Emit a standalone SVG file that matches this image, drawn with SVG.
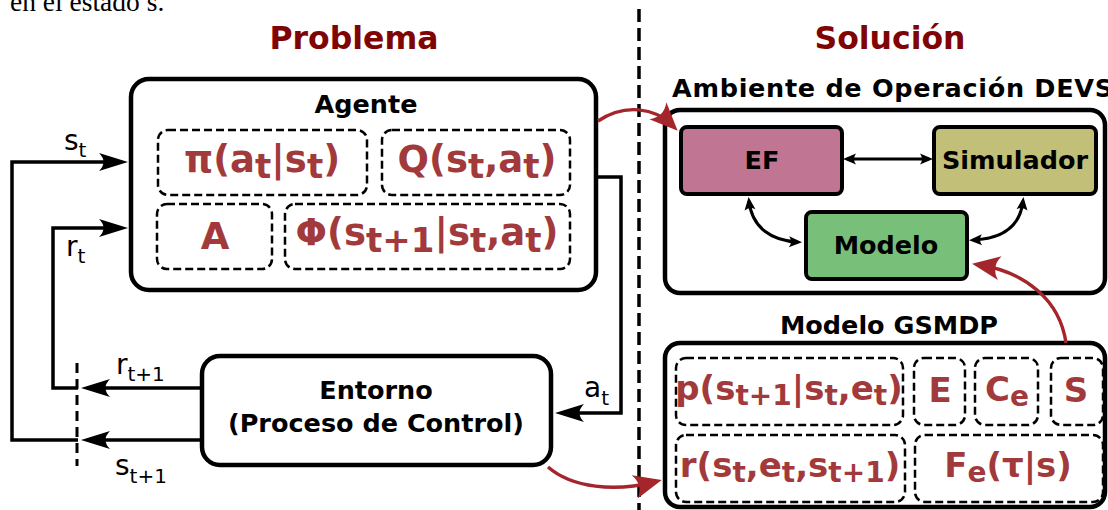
<svg xmlns="http://www.w3.org/2000/svg" width="1108" height="510" viewBox="0 0 1108 510">
<style>
.box{fill:#fff;stroke:#000;stroke-width:4.5}
.dbox{fill:none;stroke:#000;stroke-width:2.5;stroke-dasharray:8 4}
.title{font-family:"DejaVu Sans",sans-serif;font-weight:bold;font-size:31.5px;fill:#7f0505;text-anchor:middle}
.lbl{font-family:"DejaVu Sans",sans-serif;font-weight:bold;font-size:25.5px;fill:#000;text-anchor:middle}
.f{font-family:"DejaVu Sans",sans-serif;font-weight:bold;font-size:34px;fill:#a23a3c;text-anchor:middle}
.sub{font-size:28px}
.fa{font-size:37px}
.fa .sub{font-size:34px}
.v{font-family:"DejaVu Sans",sans-serif;font-size:28px;fill:#000}
.vs{font-size:20px}
.ln{fill:none;stroke:#000;stroke-width:3.5}
.thin{fill:none;stroke:#000;stroke-width:3}
.red{fill:none;stroke:#a4262c;stroke-width:3.4}
.node{stroke:#000;stroke-width:4}
</style>
<defs>
<marker id="ab" markerUnits="userSpaceOnUse" viewBox="-31 -11 33 22" markerWidth="33" markerHeight="22" refX="-10" refY="0" orient="auto" overflow="visible">
<path d="M0,0 L-29,-9 Q-20,0 -29,9 Z" fill="#000"/>
</marker>
<marker id="as" markerUnits="userSpaceOnUse" viewBox="-14 -7 16 14" markerWidth="16" markerHeight="14" refX="-4" refY="0" orient="auto-start-reverse" overflow="visible">
<path d="M0,0 L-13,-5.5 Q-9,0 -13,5.5 Z" fill="#000"/>
</marker>
<marker id="ar" markerUnits="userSpaceOnUse" viewBox="-30 -14 32 28" markerWidth="32" markerHeight="28" refX="-8" refY="0" orient="auto" overflow="visible">
<path d="M0,0 L-28,-12 Q-19,0 -28,12 Z" fill="#a4262c"/>
</marker>
</defs>
<rect width="1108" height="510" fill="#fff"/>
<text x="10" y="11" font-family="Liberation Serif,serif" font-size="27.5" fill="#000">en el estado s.</text>
<text class="title" x="354" y="49">Problema</text>
<text class="title" x="890" y="49">Solución</text>
<g id="agente">
<rect class="box" x="131" y="79" width="465" height="211" rx="18"/>
<text class="lbl" x="366" y="113">Agente</text>
<rect class="dbox" x="158" y="130" width="209" height="65" rx="10"/>
<rect class="dbox" x="382" y="130" width="188" height="65" rx="10"/>
<rect class="dbox" x="157" y="204" width="115" height="65" rx="10"/>
<rect class="dbox" x="285" y="204" width="285" height="65" rx="10"/>
<text class="f fa" x="262" y="172">π(a<tspan class="sub" dy="6">t</tspan><tspan dy="-6">|s</tspan><tspan class="sub" dy="6">t</tspan><tspan dy="-6">)</tspan></text>
<text class="f fa" x="477" y="172">Q(s<tspan class="sub" dy="6">t</tspan><tspan dy="-6">,a</tspan><tspan class="sub" dy="6">t</tspan><tspan dy="-6">)</tspan></text>
<text class="f fa" x="215" y="249">A</text>
<text class="f fa" x="427" y="245">Φ(s<tspan class="sub" dy="7">t+1</tspan><tspan dy="-7">|s</tspan><tspan class="sub" dy="7">t</tspan><tspan dy="-7">,a</tspan><tspan class="sub" dy="7">t</tspan><tspan dy="-7">)</tspan></text>
</g>
<g id="entorno">
<rect class="box" x="202" y="356" width="349" height="109" rx="18"/>
<text class="lbl" x="376" y="399">Entorno</text>
<text class="lbl" x="376" y="432" font-size="26">(Proceso de Control)</text>
</g>
<g id="labels">
<text class="v" x="64" y="150">s<tspan class="vs" dy="7">t</tspan></text>
<text class="v" x="66" y="256">r<tspan class="vs" dy="7">t</tspan></text>
<text class="v" x="116" y="374">r<tspan class="vs" dy="7">t+1</tspan></text>
<text class="v" x="115" y="475">s<tspan class="vs" dy="8">t+1</tspan></text>
<text class="v" x="584" y="397">a<tspan class="vs" dy="8">t</tspan></text>
</g>
<g id="ambiente">
<rect class="box" x="665" y="110" width="440" height="183" rx="15"/>
<text class="lbl" x="672" y="97" font-size="27" letter-spacing="0.7" style="text-anchor:start">Ambiente de Operación DEVS</text>
</g>
<g id="ef">
<rect class="node" x="681" y="127" width="161" height="67" rx="6" fill="#c07592"/>
<text class="lbl" x="762" y="169" font-size="23.5">EF</text>
</g>
<g id="simulador">
<rect class="node" x="934" y="127" width="162" height="67" rx="6" fill="#c2bf78"/>
<text class="lbl" x="1015" y="169" font-size="23.5">Simulador</text>
</g>
<g id="modelo">
<rect class="node" x="806" y="212" width="161" height="67" rx="6" fill="#78c07a"/>
<text class="lbl" x="886" y="254" font-size="23.5">Modelo</text>
</g>
<g id="gsmdp">
<rect class="box" x="665" y="343" width="440" height="164" rx="15"/>
<text class="lbl" x="889" y="334" font-size="26.4">Modelo GSMDP</text>
<rect class="dbox" x="676" y="358" width="227" height="67" rx="10"/>
<rect class="dbox" x="914" y="358" width="51" height="67" rx="10"/>
<rect class="dbox" x="975" y="358" width="63" height="67" rx="10"/>
<rect class="dbox" x="1051" y="358" width="52" height="67" rx="10"/>
<rect class="dbox" x="676" y="435" width="229" height="67" rx="10"/>
<rect class="dbox" x="915" y="435" width="188" height="67" rx="10"/>
<text class="f" x="789" y="400">p(s<tspan class="sub" dy="5">t+1</tspan><tspan dy="-5">|s</tspan><tspan class="sub" dy="5">t</tspan><tspan dy="-5">,e</tspan><tspan class="sub" dy="5">t</tspan><tspan dy="-5">)</tspan></text>
<text class="f" x="940" y="402">E</text>
<text class="f" x="1007" y="401">C<tspan class="sub" dy="5">e</tspan></text>
<text class="f" x="1076" y="402">S</text>
<text class="f" x="790" y="477">r(s<tspan class="sub" dy="5">t</tspan><tspan dy="-5">,e</tspan><tspan class="sub" dy="5">t</tspan><tspan dy="-5">,s</tspan><tspan class="sub" dy="5">t+1</tspan><tspan dy="-5">)</tspan></text>
<text class="f" x="1008" y="477">F<tspan class="sub" dy="5">e</tspan><tspan dy="-5">(τ|s)</tspan></text>
</g>
<g id="connectors">
<path d="M639,9 V510" fill="none" stroke="#000" stroke-width="3.5" stroke-dasharray="13 6"/>
<path d="M77,363 V466" fill="none" stroke="#000" stroke-width="3" stroke-dasharray="10 6"/>
<path class="ln" d="M78,440 H12 V162 H118" marker-end="url(#ab)"/>
<path class="ln" d="M78,388 H53 V228 H118" marker-end="url(#ab)"/>
<path class="ln" d="M201,388 H91" marker-end="url(#ab)"/>
<path class="ln" d="M201,440 H91" marker-end="url(#ab)"/>
<path class="ln" d="M597,177 H621 V413 H565" marker-end="url(#ab)"/>
<path class="thin" d="M847,159 H929" stroke-width="2.2" marker-start="url(#as)" marker-end="url(#as)"/>
<path class="thin" d="M749,201 C752,228 772,241 798,242" marker-start="url(#as)" marker-end="url(#as)"/>
<path class="thin" d="M1023,201 C1020,228 1000,239 973,240" marker-start="url(#as)" marker-end="url(#as)"/>
<path class="red" d="M598,121 C625,103 655,108 672,125" marker-end="url(#ar)"/>
<path class="red" d="M548,467 C572,488 615,492 654,482" marker-end="url(#ar)"/>
<path class="red" d="M1066,343 C1060,300 1025,272 980,265" marker-end="url(#ar)"/>
</g>
</svg>
